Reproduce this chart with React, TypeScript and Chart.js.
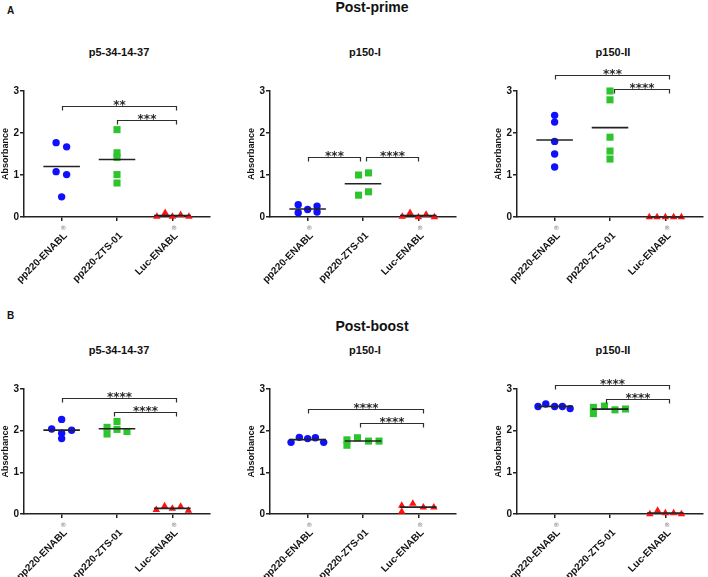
import React, { useEffect, useRef } from "react";
import { Chart, registerables } from "chart.js";

Chart.register(...registerables);

const FONT = "'Liberation Sans', Arial, Helvetica, sans-serif";

// ---- shared labels ----
const categories = ["pp220-ENABL®", "pp220-ZTS-01", "Luc-ENABL®"];
const panelTitles = ["p5-34-14-37", "p150-I", "p150-II"];
const yTickValues = [0, 1, 2, 3];
const yAxisTitle = "Absorbance";

// ---- Post-prime (A) : absorbance values per group [pp220-ENABL, pp220-ZTS-01, Luc-ENABL] ----
const primeP5Values = [
  [1.77, 1.67, 1.08, 1.01, 0.48],
  [2.08, 1.53, 1.42, 1.01, 0.81],
  [0.01, 0.1, 0.01, 0.05, 0.01],
];
const primeP5Spread = [
  [-0.1, 0.09, -0.1, 0.09, 0],
  [0, 0, 0, 0, 0],
  [-0.28, -0.13, 0, 0.15, 0.3],
];
const primeP5Stats: [number, number, number, string][] = [
  [0, 2.07, 2.64, "**"],
  [1, 2.07, 2.32, "***"],
];

const primeP150IValues = [
  [0.29, 0.1, 0.18, 0.26, 0.12],
  [1.0, 1.05, 0.52, 0.6],
  [0.01, 0.1, 0.0, 0.06, 0.0],
];
const primeP150ISpread = [
  [-0.17, -0.17, 0, 0.17, 0.17],
  [-0.08, 0.1, -0.08, 0.1],
  [-0.29, -0.15, 0, 0.14, 0.29],
];
const primeP150IStats: [number, number, number, string][] = [
  [0, 0.94, 1.43, "***"],
  [1.05, 2, 1.43, "****"],
];

const primeP150IIValues = [
  [2.42, 2.26, 1.8, 1.5, 1.19],
  [3.0, 2.79, 1.9, 1.57, 1.38],
  [0.0, 0.0, 0.0, 0.0, 0.0],
];
const primeP150IISpread = [
  [0, 0, 0, 0, 0],
  [0, 0, 0, 0, 0],
  [-0.29, -0.15, 0, 0.15, 0.29],
];
const primeP150IIStats: [number, number, number, string][] = [
  [0, 2.06, 3.37, "***"],
  [1.08, 2.06, 3.04, "****"],
];

// ---- Post-boost (B) ----
const boostP5Values = [
  [2.04, 2.27, 1.94, 1.81, 2.01],
  [2.08, 1.92, 2.22, 2.03, 1.98],
  [0.1, 0.19, 0.13, 0.18, 0.08],
];
const boostP5Spread = [
  [-0.18, 0, 0, 0, 0.18],
  [-0.18, -0.18, 0, 0, 0.18],
  [-0.29, -0.14, 0, 0.15, 0.29],
];
const boostP5Stats: [number, number, number, string][] = [
  [0, 2.07, 2.79, "****"],
  [0.94, 2.07, 2.46, "****"],
];

const boostP150IValues = [
  [1.72, 1.84, 1.81, 1.83, 1.72],
  [1.78, 1.65, 1.83, 1.75, 1.75],
  [0.2, 0.06, 0.25, 0.16, 0.16],
];
const boostP150ISpread = [
  [-0.3, -0.15, 0, 0.14, 0.29],
  [-0.29, -0.29, -0.1, 0.1, 0.29],
  [-0.3, -0.3, -0.1, 0.09, 0.28],
];
const boostP150IStats: [number, number, number, string][] = [
  [0, 2.08, 2.51, "****"],
  [0.95, 2.08, 2.19, "****"],
];

const boostP150IIValues = [
  [2.58, 2.64, 2.58, 2.58, 2.53],
  [2.56, 2.41, 2.59, 2.5, 2.52],
  [0.0, 0.08, 0.02, 0.02, 0.0],
];
const boostP150IISpread = [
  [-0.3, -0.16, 0, 0.14, 0.28],
  [-0.3, -0.3, -0.1, 0.09, 0.28],
  [-0.28, -0.14, 0, 0.15, 0.29],
];
const boostP150IIStats: [number, number, number, string][] = [
  [0, 2.07, 3.1, "****"],
  [0.93, 2.07, 2.77, "****"],
];

// ---- styles ----
const groupColors = ["#1010ff", "#2ec42e", "#ff1212"];
const groupShapes = ["circle", "rect", "triangle"];
const groupRadii = [3.7, 5, 4.3];

const CANVAS_W = 215;
const CANVAS_H = 246;
const PAD_TOP = 40;
const Y_AXIS_W = 24;
const TICK_LEN = 4;
const LABEL_PAD = 9;
const LABEL_SHIFT = 4;

type Stat = [number, number, number, string];

const statPlugin = {
  id: "stats",
  afterDatasetsDraw(chart: any, _args: any, opts: any) {
    const { ctx } = chart;
    const x = chart.scales.x;
    const y = chart.scales.y;
    const items: Stat[] = opts.items || [];
    ctx.save();
    items.forEach(([from, to, val, label]) => {
      const x1 = Math.round(x.getPixelForValue(from)) + 0.5;
      const x2 = Math.round(x.getPixelForValue(to)) + 0.5;
      const yy = Math.round(y.getPixelForValue(val)) + 0.5;
      ctx.strokeStyle = "#2e2e2e";
      ctx.lineWidth = 1.2;
      ctx.beginPath();
      ctx.moveTo(x1, yy + 4);
      ctx.lineTo(x1, yy);
      ctx.lineTo(x2, yy);
      ctx.lineTo(x2, yy + 4);
      ctx.stroke();
      ctx.fillStyle = "#2a2a2a";
      ctx.font = "bold 12px 'DejaVu Sans', sans-serif";
      ctx.textAlign = "center";
      ctx.textBaseline = "alphabetic";
      ctx.fillText(label, (x1 + x2) / 2, yy + 2.5);
    });
    // small superscript registered marks at the end of rotated category labels
    const rot = -Math.PI / 4;
    const lh = 12;
    categories.forEach((c, i) => {
      if (!c.includes("®")) return;
      const tx = x.getPixelForValue(i) + LABEL_SHIFT + (lh / 2) * Math.sin(rot);
      const ty = x.top + TICK_LEN + LABEL_PAD;
      ctx.save();
      ctx.translate(tx, ty);
      ctx.rotate(rot);
      ctx.font = "6px 'DejaVu Sans', sans-serif";
      ctx.fillStyle = "#777";
      ctx.textAlign = "center";
      ctx.textBaseline = "middle";
      ctx.fillText("®", 3, 0.5);
      ctx.restore();
    });
    ctx.restore();
  },
};

type PanelProps = {
  values: number[][];
  spread: number[][];
  stats: Stat[];
  left: number;
  top: number;
  plotH: number;
};

function Panel({ values, spread, stats, left, top, plotH }: PanelProps) {
  const ref = useRef<HTMLCanvasElement>(null);
  useEffect(() => {
    if (!ref.current) return;
    const datasets: any[] = [];
    values.forEach((vals, g) => {
      const mean = vals.reduce((a, b) => a + b, 0) / vals.length;
      datasets.push({
        label: "mean " + categories[g],
        data: [
          { x: g - 0.33, y: mean },
          { x: g + 0.33, y: mean },
        ],
        showLine: true,
        borderColor: "#222",
        borderWidth: 1.6,
        pointRadius: 0,
        clip: false,
        order: 0,
      });
    });
    values.forEach((vals, g) => {
      datasets.push({
        label: categories[g],
        data: vals.map((v, i) => ({ x: g + spread[g][i], y: v })),
        pointStyle: groupShapes[g],
        pointRadius: groupRadii[g],
        backgroundColor: groupColors[g],
        borderColor: groupColors[g],
        borderWidth: 0,
        showLine: false,
        clip: false,
        order: 1,
      });
    });
    const axisColor = "#222";
    const chart = new Chart(ref.current, {
      type: "scatter",
      data: { datasets },
      options: {
        responsive: false,
        animation: false,
        events: [],
        layout: { padding: { top: PAD_TOP, left: 0, right: 0, bottom: 0 } },
        plugins: {
          legend: { display: false },
          tooltip: { enabled: false },
          title: { display: false },
          stats: { items: stats },
        } as any,
        scales: {
          x: {
            type: "linear",
            min: -0.68,
            max: 2.68,
            afterBuildTicks: (s: any) => {
              s.ticks = [0, 1, 2].map((v) => ({ value: v }));
            },
            afterFit: (s: any) => {
              s.height = CANVAS_H - PAD_TOP - plotH;
              s.paddingLeft = 0;
              s.paddingRight = 0;
            },
            ticks: {
              autoSkip: false,
              minRotation: 45,
              maxRotation: 45,
              padding: LABEL_PAD,
              labelOffset: LABEL_SHIFT,
              color: "#111",
              font: { family: FONT, size: 10, weight: "bold" },
              callback: (v: any) => categories[Math.round(Number(v))].replace("®", ""),
            },
            grid: {
              drawOnChartArea: false,
              drawTicks: true,
              tickLength: TICK_LEN,
              color: axisColor,
              lineWidth: 1.5,
            },
            border: { display: true, color: axisColor, width: 1.5 },
          } as any,
          y: {
            type: "linear",
            min: 0,
            max: 3,
            afterBuildTicks: (s: any) => {
              s.ticks = yTickValues.map((v) => ({ value: v }));
            },
            afterFit: (s: any) => {
              s.width = Y_AXIS_W;
              s.paddingTop = 0;
              s.paddingBottom = 0;
            },
            ticks: {
              padding: 1,
              color: "#111",
              font: { family: FONT, size: 10, weight: "bold" },
            },
            grid: {
              drawOnChartArea: false,
              drawTicks: true,
              tickLength: TICK_LEN,
              color: axisColor,
              lineWidth: 1.5,
            },
            border: { display: true, color: axisColor, width: 1.5 },
            title: {
              display: true,
              text: yAxisTitle,
              color: "#111",
              padding: 0,
              font: { family: FONT, size: 9, weight: "bold" },
            },
          } as any,
        },
      },
      plugins: [statPlugin as any],
    });
    return () => chart.destroy();
  }, [values, spread, stats, plotH]);

  return (
    <canvas
      ref={ref}
      width={CANVAS_W}
      height={CANVAS_H}
      style={{
        position: "absolute",
        left: left - Y_AXIS_W,
        top: top - PAD_TOP,
        width: CANVAS_W,
        height: CANVAS_H,
      }}
    />
  );
}

const panels = [
  { values: primeP5Values, spread: primeP5Spread, stats: primeP5Stats, left: 24, top: 91, plotH: 126, title: panelTitles[0], titleX: 119, titleTop: 46.7 },
  { values: primeP150IValues, spread: primeP150ISpread, stats: primeP150IStats, left: 270, top: 91, plotH: 126, title: panelTitles[1], titleX: 365, titleTop: 46.7 },
  { values: primeP150IIValues, spread: primeP150IISpread, stats: primeP150IIStats, left: 517, top: 91, plotH: 126, title: panelTitles[2], titleX: 613, titleTop: 46.7 },
  { values: boostP5Values, spread: boostP5Spread, stats: boostP5Stats, left: 24, top: 389, plotH: 125, title: panelTitles[0], titleX: 119, titleTop: 344.7 },
  { values: boostP150IValues, spread: boostP150ISpread, stats: boostP150IStats, left: 270, top: 389, plotH: 125, title: panelTitles[1], titleX: 365, titleTop: 344.7 },
  { values: boostP150IIValues, spread: boostP150IISpread, stats: boostP150IIStats, left: 517, top: 389, plotH: 125, title: panelTitles[2], titleX: 613, titleTop: 344.7 },
];

const textBase: React.CSSProperties = {
  position: "absolute",
  fontFamily: FONT,
  fontWeight: "bold",
  color: "#111",
  lineHeight: 1,
  whiteSpace: "nowrap",
};

export default function App() {
  return (
    <div
      style={{
        position: "absolute",
        left: 0,
        top: 0,
        width: 708,
        height: 577,
        overflow: "hidden",
        background: "#fff",
      }}
    >
      <div style={{ ...textBase, left: 7, top: 6, fontSize: 10 }}>A</div>
      <div style={{ ...textBase, left: 272, width: 200, top: 0, fontSize: 14, textAlign: "center" }}>Post-prime</div>
      <div style={{ ...textBase, left: 7, top: 310.5, fontSize: 10 }}>B</div>
      <div style={{ ...textBase, left: 272, width: 200, top: 319, fontSize: 14, textAlign: "center" }}>Post-boost</div>
      {panels.map((p, i) => (
        <div key={"t" + i} style={{ ...textBase, left: p.titleX - 100, width: 200, top: p.titleTop, fontSize: 11, textAlign: "center" }}>
          {p.title}
        </div>
      ))}
      {panels.map((p, i) => (
        <Panel key={i} values={p.values} spread={p.spread} stats={p.stats} left={p.left} top={p.top} plotH={p.plotH} />
      ))}
    </div>
  );
}
